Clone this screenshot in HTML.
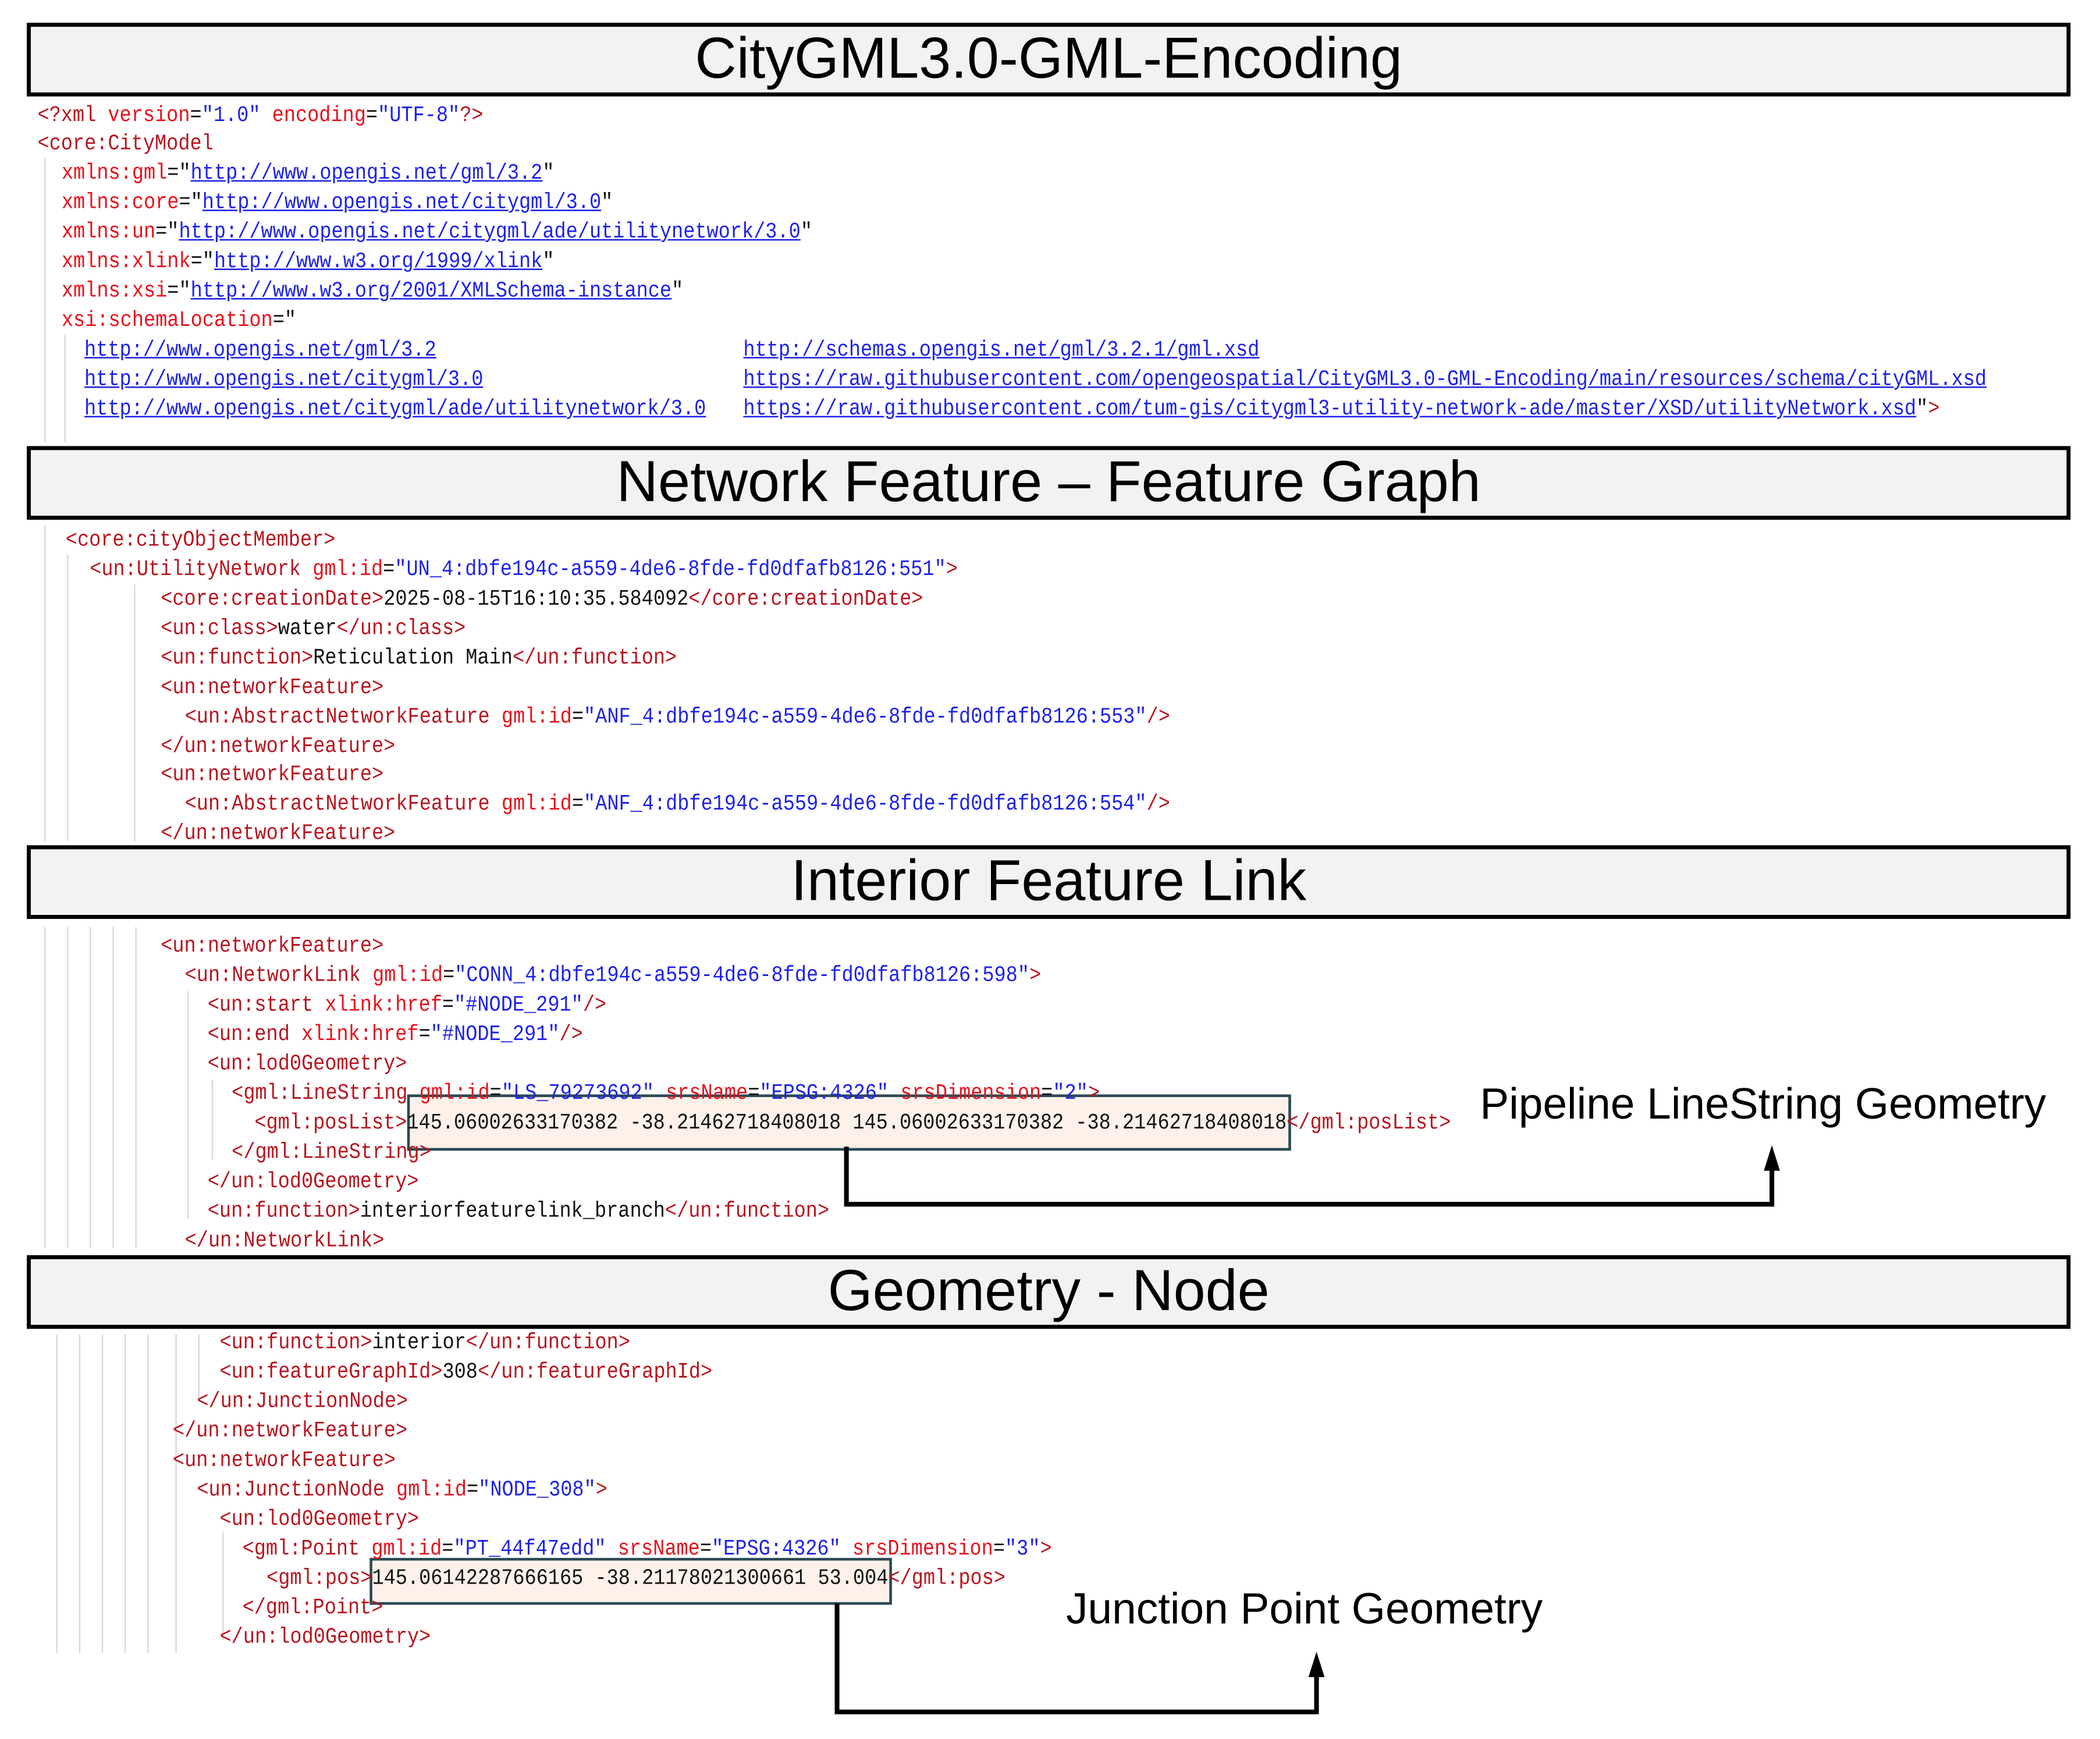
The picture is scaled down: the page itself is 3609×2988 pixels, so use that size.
<!DOCTYPE html>
<html><head><meta charset="utf-8"><style>
html,body{margin:0;padding:0;background:#fff;width:3609px;height:2987px;overflow:hidden}
#w{position:absolute;left:0;top:0;width:1568px;height:1298px;transform:scale(2.30166);transform-origin:0 0}
.h{position:absolute;left:20px;width:1520px;height:49px;border:3px solid #000;background:#f2f2f2;font-family:"Liberation Sans",sans-serif;font-size:43px;text-align:center;line-height:49px;color:#000}
.l{position:absolute;margin-top:2px;height:22px;line-height:22px;font-family:"Liberation Mono",monospace;font-size:14.6px;white-space:pre;color:#111;transform:scaleY(1.12);transform-origin:0 50%}
.t{color:#b8141e}.a{color:#e8101a}.v{color:#1c22e8}.u{color:#1c22e8;text-decoration:underline}
.g{position:absolute;width:1px;background:#d8d8d8}
.lab{position:absolute;font-family:"Liberation Sans",sans-serif;font-size:32.5px;white-space:nowrap;color:#000}
.bx{position:absolute;background:#fdf1ea;border:2px solid #2b4a55;box-sizing:border-box}
</style></head><body><div id="w">
<div class="h" style="top:17px">CityGML3.0-GML-Encoding</div>
<div class="h" style="top:333px">Network Feature – Feature Graph</div>
<div class="h" style="top:631px">Interior Feature Link</div>
<div class="h" style="top:937px">Geometry - Node</div>

<div class="g" style="left:33px;top:118px;height:212px"></div>
<div class="g" style="left:48px;top:250px;height:80px"></div>
<div class="g" style="left:33px;top:392px;height:236px"></div>
<div class="g" style="left:50px;top:414px;height:214px"></div>
<div class="g" style="left:100px;top:436px;height:192px"></div>
<div class="g" style="left:33px;top:692px;height:240px"></div>
<div class="g" style="left:50px;top:692px;height:240px"></div>
<div class="g" style="left:67px;top:692px;height:240px"></div>
<div class="g" style="left:84px;top:692px;height:240px"></div>
<div class="g" style="left:101px;top:692px;height:240px"></div>
<div class="g" style="left:140px;top:740px;height:170px"></div>
<div class="g" style="left:158px;top:806px;height:60px"></div>
<div class="g" style="left:42px;top:996px;height:238px"></div>
<div class="g" style="left:59px;top:996px;height:238px"></div>
<div class="g" style="left:76px;top:996px;height:238px"></div>
<div class="g" style="left:93px;top:996px;height:238px"></div>
<div class="g" style="left:110px;top:996px;height:238px"></div>
<div class="g" style="left:131px;top:996px;height:238px"></div>
<div class="g" style="left:148px;top:996px;height:50px"></div>
<div class="g" style="left:166px;top:1144px;height:80px"></div>

<div class="l" style="left:28px;top:74px"><span class="t">&lt;?xml </span><span class="a">version</span>=<span class="v">"1.0"</span> <span class="a">encoding</span>=<span class="v">"UTF-8"</span><span class="t">?&gt;</span></div>
<div class="l" style="left:28px;top:95px"><span class="t">&lt;core:CityModel</span></div>
<div class="l" style="left:46px;top:117px"><span class="a">xmlns:gml</span>="<span class="u">http://www.opengis.net/gml/3.2</span>"</div>
<div class="l" style="left:46px;top:139px"><span class="a">xmlns:core</span>="<span class="u">http://www.opengis.net/citygml/3.0</span>"</div>
<div class="l" style="left:46px;top:161px"><span class="a">xmlns:un</span>="<span class="u">http://www.opengis.net/citygml/ade/utilitynetwork/3.0</span>"</div>
<div class="l" style="left:46px;top:183px"><span class="a">xmlns:xlink</span>="<span class="u">http://www.w3.org/1999/xlink</span>"</div>
<div class="l" style="left:46px;top:205px"><span class="a">xmlns:xsi</span>="<span class="u">http://www.w3.org/2001/XMLSchema-instance</span>"</div>
<div class="l" style="left:46px;top:227px"><span class="a">xsi:schemaLocation</span>="</div>
<div class="l" style="left:63px;top:249px"><span class="u">http://www.opengis.net/gml/3.2</span></div>
<div class="l" style="left:63px;top:271px"><span class="u">http://www.opengis.net/citygml/3.0</span></div>
<div class="l" style="left:63px;top:293px"><span class="u">http://www.opengis.net/citygml/ade/utilitynetwork/3.0</span></div>
<div class="l" style="left:555px;top:249px"><span class="u">http://schemas.opengis.net/gml/3.2.1/gml.xsd</span></div>
<div class="l" style="left:555px;top:271px"><span class="u">https://raw.githubusercontent.com/opengeospatial/CityGML3.0-GML-Encoding/main/resources/schema/cityGML.xsd</span></div>
<div class="l" style="left:555px;top:293px"><span class="u">https://raw.githubusercontent.com/tum-gis/citygml3-utility-network-ade/master/XSD/utilityNetwork.xsd</span>"<span class="t">&gt;</span></div>

<div class="l" style="left:49px;top:391px"><span class="t">&lt;core:cityObjectMember&gt;</span></div>
<div class="l" style="left:67px;top:413px"><span class="t">&lt;un:UtilityNetwork </span><span class="a">gml:id</span>=<span class="v">"UN_4:dbfe194c-a559-4de6-8fde-fd0dfafb8126:551"</span><span class="t">&gt;</span></div>
<div class="l" style="left:120px;top:435px"><span class="t">&lt;core:creationDate&gt;</span>2025-08-15T16:10:35.584092<span class="t">&lt;/core:creationDate&gt;</span></div>
<div class="l" style="left:120px;top:457px"><span class="t">&lt;un:class&gt;</span>water<span class="t">&lt;/un:class&gt;</span></div>
<div class="l" style="left:120px;top:479px"><span class="t">&lt;un:function&gt;</span>Reticulation Main<span class="t">&lt;/un:function&gt;</span></div>
<div class="l" style="left:120px;top:501px"><span class="t">&lt;un:networkFeature&gt;</span></div>
<div class="l" style="left:138px;top:523px"><span class="t">&lt;un:AbstractNetworkFeature </span><span class="a">gml:id</span>=<span class="v">"ANF_4:dbfe194c-a559-4de6-8fde-fd0dfafb8126:553"</span><span class="t">/&gt;</span></div>
<div class="l" style="left:120px;top:545px"><span class="t">&lt;/un:networkFeature&gt;</span></div>
<div class="l" style="left:120px;top:566px"><span class="t">&lt;un:networkFeature&gt;</span></div>
<div class="l" style="left:138px;top:588px"><span class="t">&lt;un:AbstractNetworkFeature </span><span class="a">gml:id</span>=<span class="v">"ANF_4:dbfe194c-a559-4de6-8fde-fd0dfafb8126:554"</span><span class="t">/&gt;</span></div>
<div class="l" style="left:120px;top:610px"><span class="t">&lt;/un:networkFeature&gt;</span></div>

<div class="bx" style="left:304px;top:817px;width:660px;height:42px"></div>
<div class="bx" style="left:276px;top:1163px;width:390px;height:35px"></div>

<div class="l" style="left:120px;top:694px"><span class="t">&lt;un:networkFeature&gt;</span></div>
<div class="l" style="left:138px;top:716px"><span class="t">&lt;un:NetworkLink </span><span class="a">gml:id</span>=<span class="v">"CONN_4:dbfe194c-a559-4de6-8fde-fd0dfafb8126:598"</span><span class="t">&gt;</span></div>
<div class="l" style="left:155px;top:738px"><span class="t">&lt;un:start </span><span class="a">xlink:href</span>=<span class="v">"#NODE_291"</span><span class="t">/&gt;</span></div>
<div class="l" style="left:155px;top:760px"><span class="t">&lt;un:end </span><span class="a">xlink:href</span>=<span class="v">"#NODE_291"</span><span class="t">/&gt;</span></div>
<div class="l" style="left:155px;top:782px"><span class="t">&lt;un:lod0Geometry&gt;</span></div>
<div class="l" style="left:173px;top:804px"><span class="t">&lt;gml:LineString </span><span class="a">gml:id</span>=<span class="v">"LS_79273692"</span> <span class="a">srsName</span>=<span class="v">"EPSG:4326"</span> <span class="a">srsDimension</span>=<span class="v">"2"</span><span class="t">&gt;</span></div>
<div class="l" style="left:190px;top:826px"><span class="t">&lt;gml:posList&gt;</span>145.06002633170382 -38.21462718408018 145.06002633170382 -38.21462718408018<span class="t">&lt;/gml:posList&gt;</span></div>
<div class="l" style="left:173px;top:848px"><span class="t">&lt;/gml:LineString&gt;</span></div>
<div class="l" style="left:155px;top:870px"><span class="t">&lt;/un:lod0Geometry&gt;</span></div>
<div class="l" style="left:155px;top:892px"><span class="t">&lt;un:function&gt;</span>interiorfeaturelink_branch<span class="t">&lt;/un:function&gt;</span></div>
<div class="l" style="left:138px;top:914px"><span class="t">&lt;/un:NetworkLink&gt;</span></div>

<div class="l" style="left:164px;top:990px"><span class="t">&lt;un:function&gt;</span>interior<span class="t">&lt;/un:function&gt;</span></div>
<div class="l" style="left:164px;top:1012px"><span class="t">&lt;un:featureGraphId&gt;</span>308<span class="t">&lt;/un:featureGraphId&gt;</span></div>
<div class="l" style="left:147px;top:1034px"><span class="t">&lt;/un:JunctionNode&gt;</span></div>
<div class="l" style="left:129px;top:1056px"><span class="t">&lt;/un:networkFeature&gt;</span></div>
<div class="l" style="left:129px;top:1078px"><span class="t">&lt;un:networkFeature&gt;</span></div>
<div class="l" style="left:147px;top:1100px"><span class="t">&lt;un:JunctionNode </span><span class="a">gml:id</span>=<span class="v">"NODE_308"</span><span class="t">&gt;</span></div>
<div class="l" style="left:164px;top:1122px"><span class="t">&lt;un:lod0Geometry&gt;</span></div>
<div class="l" style="left:181px;top:1144px"><span class="t">&lt;gml:Point </span><span class="a">gml:id</span>=<span class="v">"PT_44f47edd"</span> <span class="a">srsName</span>=<span class="v">"EPSG:4326"</span> <span class="a">srsDimension</span>=<span class="v">"3"</span><span class="t">&gt;</span></div>
<div class="l" style="left:199px;top:1166px"><span class="t">&lt;gml:pos&gt;</span>145.06142287666165 -38.21178021300661 53.004<span class="t">&lt;/gml:pos&gt;</span></div>
<div class="l" style="left:181px;top:1188px"><span class="t">&lt;/gml:Point&gt;</span></div>
<div class="l" style="left:164px;top:1210px"><span class="t">&lt;/un:lod0Geometry&gt;</span></div>

<div class="lab" style="left:1105px;top:806px">Pipeline LineString Geometry</div>
<div class="lab" style="left:796px;top:1183px">Junction Point Geometry</div>

<svg style="position:absolute;left:0;top:0" width="1568" height="1298">
<polyline points="632,856 632,899 1323,899 1323,872" fill="none" stroke="#000" stroke-width="3.5"/>
<polygon points="1317,874 1329,874 1323,855" fill="#000"/>
<polyline points="625,1197 625,1278 983,1278 983,1250" fill="none" stroke="#000" stroke-width="3.5"/>
<polygon points="977,1252 989,1252 983,1233" fill="#000"/>
</svg>
</div></body></html>
